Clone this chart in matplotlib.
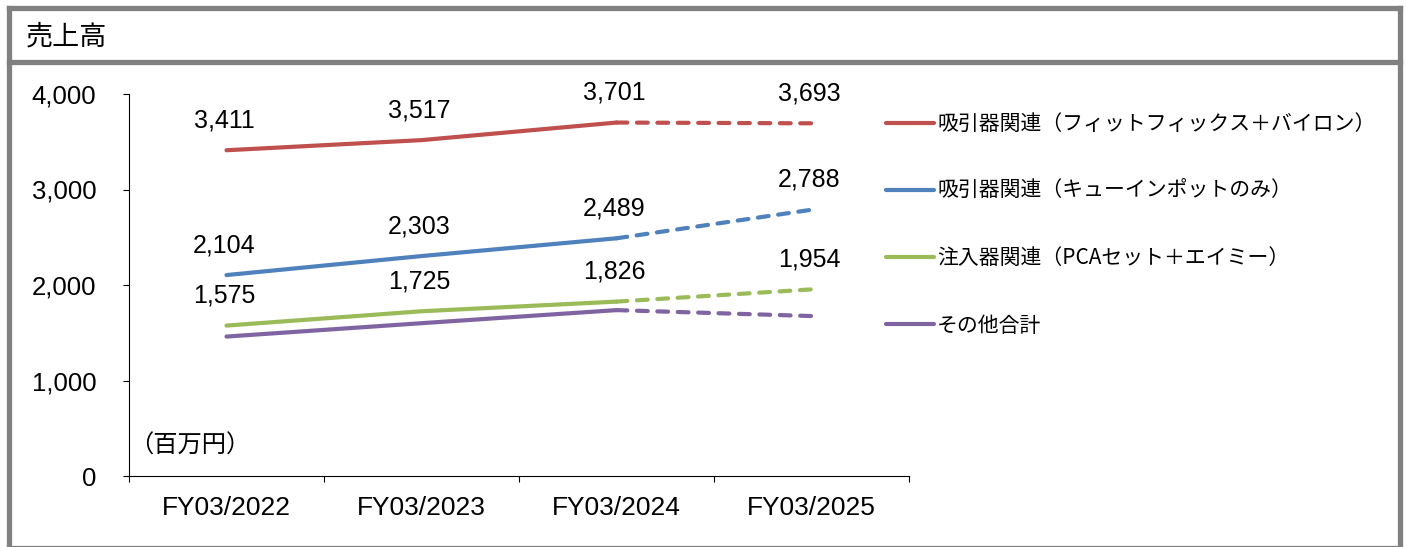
import matplotlib
matplotlib.use('Agg')
import matplotlib.pyplot as plt
from matplotlib.lines import Line2D
from matplotlib.ticker import FixedLocator, NullFormatter, FuncFormatter

plt.rcParams['font.family'] = ['Liberation Sans', 'Noto Sans CJK JP']

# ---- data ----
categories = ['FY03/2022', 'FY03/2023', 'FY03/2024', 'FY03/2025']
series_names = ['吸引器関連（フィットフィックス＋バイロン）',
                '吸引器関連（キューインポットのみ）',
                '注入器関連（PCAセット＋エイミー）',
                'その他合計']
red_values = [3411, 3517, 3701, 3693]
blue_values = [2104, 2303, 2489, 2788]
green_values = [1575, 1725, 1826, 1954]
purple_values = [1460, 1600, 1737, 1675]
series_colors = ['#C0504D', '#4F81BD', '#9BBB59', '#8064A2']
show_labels = [True, True, True, False]
y_ticks = [0, 1000, 2000, 3000, 4000]
title_text = '売上高'
unit_text = '（百万円）'

W, H = 1407, 547
fig = plt.figure(figsize=(W / 100, H / 100), dpi=100)
ax = fig.add_axes([129 / W, 1 - 476 / H, 780 / W, 382 / H])

xs = list(range(len(categories)))
all_values = [red_values, blue_values, green_values, purple_values]
handles = []
for vals, color, name, lab in zip(all_values, series_colors, series_names, show_labels):
    h, = ax.plot(xs[:3], vals[:3], color=color, lw=3, solid_capstyle='round',
                 solid_joinstyle='round', label=name)
    ax.plot(xs[2:], vals[2:], color=color, lw=3, ls=(0, (2.6, 2.3)),
            dash_capstyle='round')
    handles.append(h)
    if lab:
        for xi, v in zip(xs, vals):
            ax.annotate(f'{v:,}', (xi, v), xytext=(-1.5, 21.5), textcoords='offset points',
                        ha='center', va='center', fontsize=18,
                        family=['Liberation Sans'])

ax.set_xlim(-0.5, 3.5)
ax.set_ylim(0, 4000)

for s in ['top', 'right']:
    ax.spines[s].set_visible(False)
for s in ['left', 'bottom']:
    ax.spines[s].set_linewidth(0.8)
    ax.spines[s].set_color('black')

ax.set_yticks(y_ticks)
ax.yaxis.set_major_formatter(FuncFormatter(lambda v, p: f'{int(v):,}'))
ax.tick_params(axis='y', direction='out', length=4.5, width=0.8, pad=19, labelsize=18.5)

ax.xaxis.set_major_locator(FixedLocator([-0.5, 0.5, 1.5, 2.5, 3.5]))
ax.xaxis.set_major_formatter(NullFormatter())
ax.xaxis.set_minor_locator(FixedLocator(xs))
ax.set_xticklabels(categories, minor=True)
ax.tick_params(axis='x', which='major', direction='out', length=4.5, width=0.8)
ax.tick_params(axis='x', which='minor', length=0, pad=14.5, labelsize=19)

ax.text(0.0, 0.079, unit_text, transform=ax.transAxes, fontsize=17.5, va='center',
        ha='left', family=['Noto Sans CJK JP'])

leg = ax.legend(handles=handles, loc='upper left',
                bbox_to_anchor=(886 / W, 1 - 113 / H), bbox_transform=fig.transFigure,
                frameon=False, prop={'family': ['Noto Sans CJK JP', 'Liberation Sans'], 'size': 15},
                handlelength=2.3, handletextpad=0.15, labelspacing=2.17,
                borderpad=0, borderaxespad=0)

# title and frame
fig.text(26 / W, 1 - 37 / H, title_text, fontsize=19.5, va='center', ha='left',
         family=['Noto Sans CJK JP'])
gray = '#808080'
lw_frame = 3.8
L, R, T, B = 8.5 / W, 1400 / W, 1 - 7.5 / H, 1 - 548 / H
for xd, yd in [([L, R], [T, T]), ([L, R], [B, B]), ([L, L], [B, T]), ([R, R], [B, T])]:
    fig.add_artist(Line2D(xd, yd, transform=fig.transFigure, color=gray, lw=lw_frame,
                          solid_capstyle='projecting'))
sep = 1 - 61.5 / H
fig.add_artist(Line2D([L, R], [sep, sep], transform=fig.transFigure, color=gray, lw=lw_frame))

fig.savefig('out.png', dpi=100)
